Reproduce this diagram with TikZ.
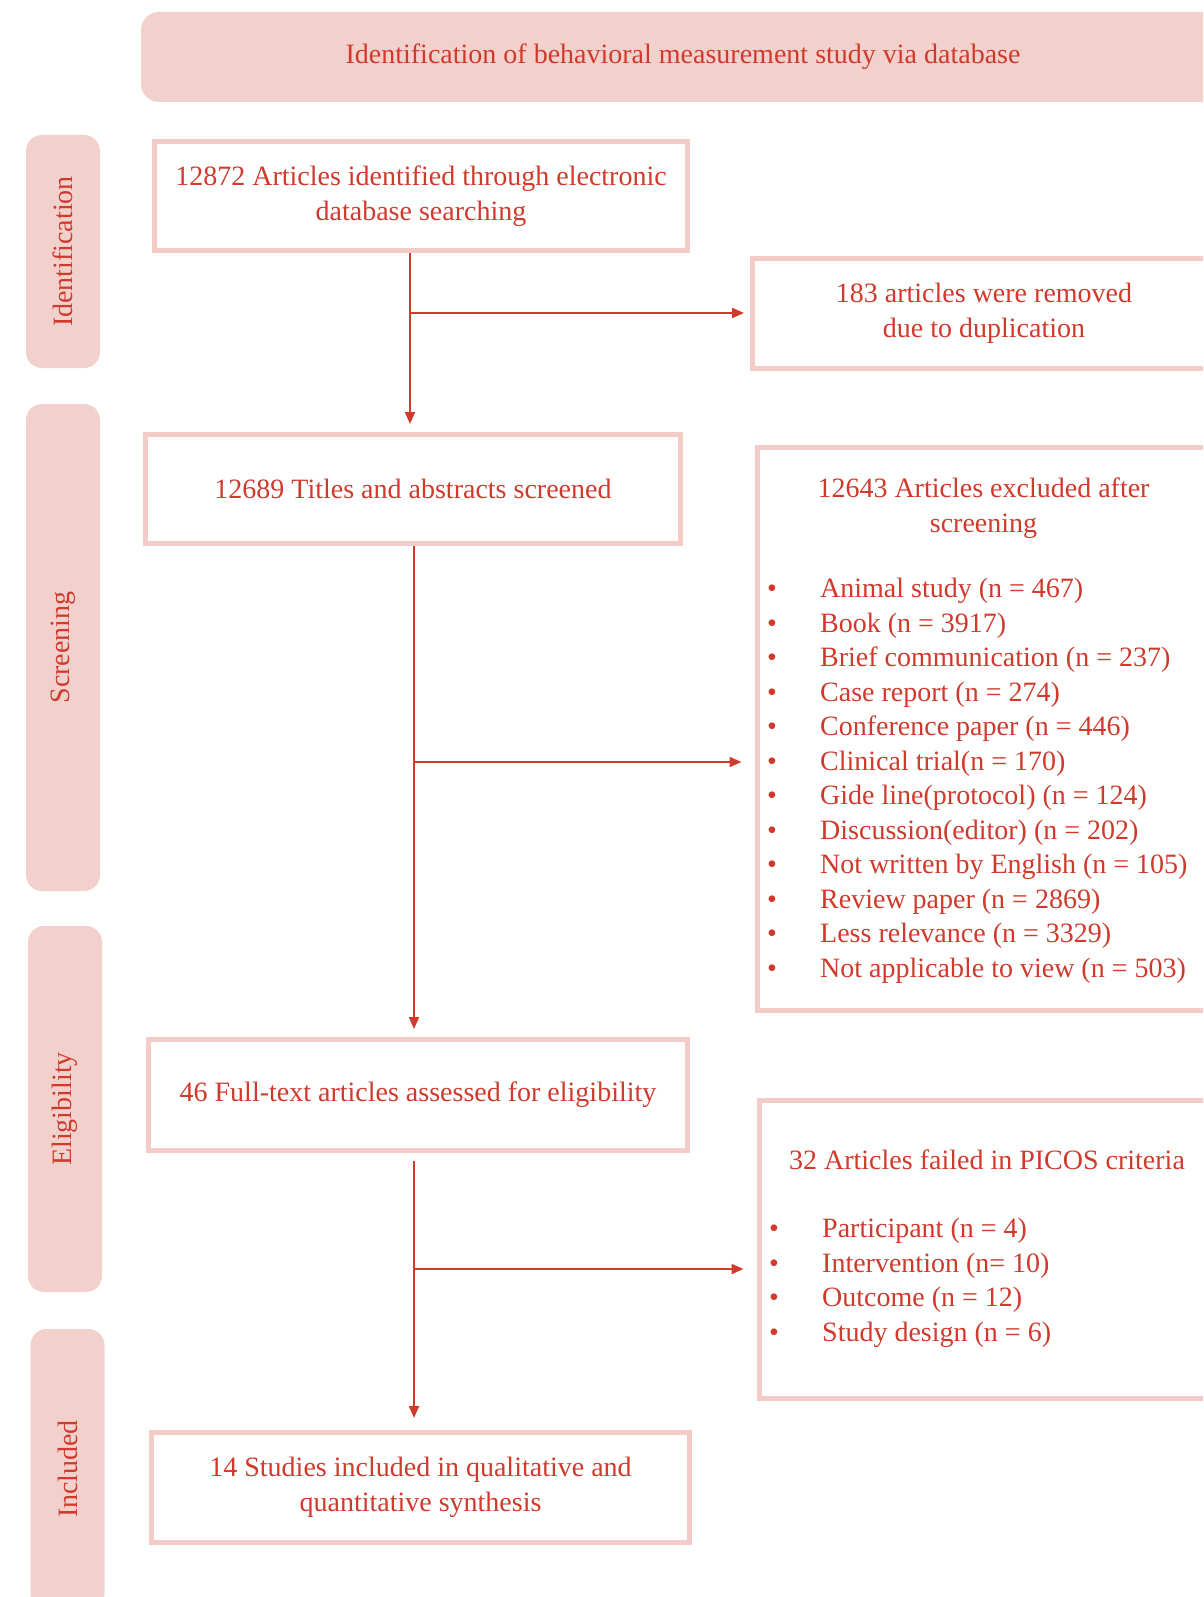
\documentclass[tikz,border=0pt]{standalone}
\usepackage{fontspec}
\setmainfont{Liberation Serif}
\usetikzlibrary{arrows.meta, positioning}
\definecolor{prismared}{RGB}{208,58,45}
\definecolor{prismapink}{RGB}{243,204,199}
\definecolor{prismafill}{RGB}{242,208,204}
\tikzset{box/.style={rectangle,draw=prismapink,line width=5pt,fill=white,align=center,inner sep=0pt,text=prismared},
  stage/.style={rectangle,fill=prismafill,rounded corners=16pt,text=prismared,rotate=90,inner sep=0pt},
  banner/.style={rectangle,fill=prismafill,rounded corners=18pt,text=prismared,inner sep=0pt},
  txt/.style={text=prismared,align=left,inner sep=0pt},
  line/.style={-{Triangle[length=12pt,width=10pt]},draw=prismared,line width=2pt}}
\newcommand{\bul}[1]{\makebox[53pt][l]{\textbullet}#1}

\begin{document}
\begin{tikzpicture}[x=1pt,y=-1pt,font=\fontsize{28}{34.5}\selectfont]
\useasboundingbox (0,0) rectangle (1203,1597);
\clip (0,0) rectangle (1203,1597);
% title bar and stage labels
\node[banner, minimum width=1084pt, minimum height=90pt] (head) at (683,57) {\raisebox{-3pt}{Identification of behavioral measurement study via database}};
\node[stage, minimum width=233pt, minimum height=74pt] (lident) at (63,251.5) {Identification};
\node[stage, minimum width=487pt, minimum height=74pt] (lscreen) at (63,647.5) {Screening};
\node[stage, minimum width=366pt, minimum height=74pt] (lelig) at (65,1109) {Eligibility};
\node[stage, minimum width=280pt, minimum height=74pt] (lincl) at (67.5,1469) {Included};
% main column
\node[box, minimum width=533pt, minimum height=109pt] (ident) at (421,196) {12872 Articles identified through electronic\\database searching};
\node[box, minimum width=535pt, minimum height=109pt] (screen) at (413,489) {12689 Titles and abstracts screened};
\node[box, minimum width=539pt, minimum height=111pt] (full) at (418,1095) {46 Full-text articles assessed for eligibility};
\node[box, minimum width=538pt, minimum height=110pt] (incl) at (420.5,1487.5) {14 Studies included in qualitative and\\quantitative synthesis};
% side boxes
\node[box, minimum width=463pt, minimum height=110pt] (dup) at (984,313.5) {183 articles were removed\\due to duplication};
\node[box, minimum width=458pt, minimum height=563pt, anchor=north west] (excl) at (754.5,444.5) {};
\node[txt, align=center] (exclhead) at (983.5,508) {12643 Articles excluded after\\screening};
\node[txt, anchor=west] (excllist) at (767,781) {\bul{Animal study (n = 467)}\\\bul{Book (n = 3917)}\\\bul{Brief communication (n = 237)}\\\bul{Case report (n = 274)}\\\bul{Conference paper (n = 446)}\\\bul{Clinical trial(n = 170)}\\\bul{Gide line(protocol) (n = 124)}\\\bul{Discussion(editor) (n = 202)}\\\bul{Not written by English (n = 105)}\\\bul{Review paper (n = 2869)}\\\bul{Less relevance (n = 3329)}\\\bul{Not applicable to view (n = 503)}};
\node[box, minimum width=461pt, minimum height=298pt, anchor=north west] (picos) at (756.5,1097.5) {};
\node[txt] (picoshead) at (987,1160) {32 Articles failed in PICOS criteria};
\node[txt, anchor=west] (picoslist) at (769,1283) {\bul{Participant (n = 4)}\\\bul{Intervention (n= 10)}\\\bul{Outcome (n = 12)}\\\bul{Study design (n = 6)}};
% connectors
\coordinate (j1) at (410,313);
\coordinate (j2) at (414,762);
\coordinate (j3) at (414,1269);
\draw[line, shorten >=8pt] (ident.south -| j1) -- (screen.north -| j1);
\draw[line, shorten >=6pt] (j1) -- (j1 -| dup.west);
\draw[line, shorten >=8pt] (screen.south -| j2) -- (full.north -| j2);
\draw[line, shorten >=13pt] (j2) -- (j2 -| excl.west);
\draw[line, shorten <=8pt, shorten >=12pt] (full.south -| j3) -- (incl.north -| j3);
\draw[line, shorten >=13pt] (j3) -- (j3 -| picos.west);
\end{tikzpicture}
\end{document}
